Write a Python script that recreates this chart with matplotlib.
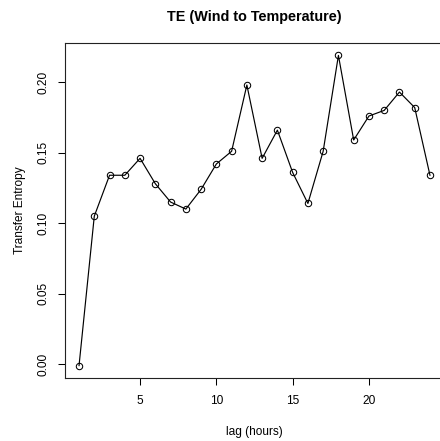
import numpy as np
import matplotlib
matplotlib.use("Agg")
import matplotlib.pyplot as plt

plt.rcParams['font.family'] = ['Liberation Sans', 'DejaVu Sans']

# transfer entropy per lag
lags = list(range(1, 25))
te = [-0.001, 0.105, 0.134, 0.134, 0.146, 0.128, 0.115, 0.110, 0.124, 0.142,
      0.151, 0.198, 0.146, 0.166, 0.136, 0.114, 0.151, 0.219, 0.159, 0.176,
      0.180, 0.193, 0.182, 0.134]
xticks = [5, 10, 15, 20]
yticks = [0.00, 0.05, 0.10, 0.15, 0.20]

fig = plt.figure(figsize=(4.40, 4.41), dpi=100)
ax = fig.add_axes([65 / 440, 63 / 441, 379 / 440, 335 / 441])

ax.plot(lags, te, color='black', linewidth=0.85, marker='o', markersize=4.6,
        markerfacecolor='none', markeredgecolor='black', markeredgewidth=0.75)

# R-style 4% padding
pad_x = (max(lags) - min(lags)) * 0.04
pad_y = (max(te) - min(te)) * 0.04
ax.set_xlim(min(lags) - pad_x, max(lags) + pad_x)
ax.set_ylim(min(te) - pad_y, max(te) + pad_y)

ax.set_xticks(xticks)
ax.set_yticks(yticks)
ax.set_yticklabels([f'{v:.2f}' for v in yticks], rotation=90, va='center')
ax.tick_params(axis='both', direction='out', length=5.2, width=0.75,
               labelsize=8.6, colors='black')
ax.tick_params(axis='x', pad=7)
ax.tick_params(axis='y', pad=6)

for s in ax.spines.values():
    s.set_linewidth(0.8)
    s.set_color('#222222')

ax.set_title('TE (Wind to Temperature)', fontsize=10.4, fontweight='bold', pad=16)
ax.set_xlabel('lag (hours)', fontsize=8.6, labelpad=14)
ax.set_ylabel('Transfer Entropy', fontsize=8.6, labelpad=8)

fig.savefig('out.png', dpi=100)
